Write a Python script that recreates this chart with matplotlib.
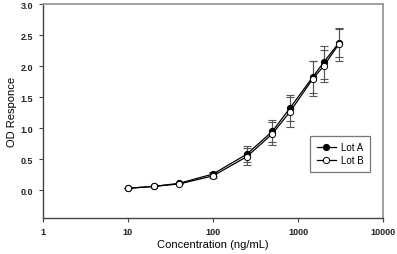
import numpy as np
import matplotlib
matplotlib.use("Agg")
import matplotlib.pyplot as plt

# concentrations (ng/mL)
conc = [10, 20, 40, 100, 250, 500, 800, 1500, 2000, 3000]
lot_a = [0.03, 0.06, 0.11, 0.26, 0.58, 0.95, 1.32, 1.83, 2.06, 2.37]
lot_a_err = [0.0, 0.0, 0.0, 0.04, 0.13, 0.18, 0.21, 0.26, 0.27, 0.23]
lot_b = [0.03, 0.06, 0.10, 0.23, 0.54, 0.91, 1.26, 1.80, 2.00, 2.35]
lot_b_err = [0.0, 0.0, 0.0, 0.04, 0.14, 0.19, 0.24, 0.29, 0.26, 0.26]

x_ticks = [1, 10, 100, 1000, 10000]
y_ticks = [0.0, 0.5, 1.0, 1.5, 2.0, 2.5, 3.0]

plt.rcParams["font.family"] = ["Liberation Sans", "DejaVu Sans"]

fig = plt.figure(figsize=(3.97, 2.55), dpi=100)
ax = fig.add_axes([0.108, 0.141, 0.857, 0.839])

err_kw = dict(fmt="none", ecolor="#555555", elinewidth=0.8, capsize=3, capthick=0.8)
ax.errorbar(conc, lot_a, yerr=lot_a_err, zorder=2, **err_kw)
ax.errorbar(conc, lot_b, yerr=lot_b_err, zorder=2, **err_kw)
ax.plot(conc, lot_a, color="black", lw=0.9, marker="o", ms=4.5,
        mfc="black", mec="black", mew=0.7, label="Lot A", zorder=3)
ax.plot(conc, lot_b, color="black", lw=0.9, marker="o", ms=4.5,
        mfc="white", mec="black", mew=0.7, label="Lot B", zorder=4)

ax.set_xscale("log")
ax.set_xlim(1, 10000)
ax.set_ylim(-0.45, 3.0)
ax.set_xticks(x_ticks)
ax.set_xticklabels([str(t) for t in x_ticks])
ax.xaxis.set_minor_locator(matplotlib.ticker.NullLocator())
ax.set_yticks(y_ticks)
ax.set_yticklabels([f"{t:.1f}" for t in y_ticks])
ax.tick_params(axis="both", labelsize=6.5, length=3, width=0.8,
               color="#444444")
ax.tick_params(axis="y", pad=4)
ax.tick_params(axis="x", pad=3.5)
for lbl in ax.get_xticklabels() + ax.get_yticklabels():
    lbl.set_fontweight("bold")
    lbl.set_color("#222222")

ax.set_xlabel("Concentration (ng/mL)", fontsize=8, va="center")
ax.set_ylabel("OD Responce", fontsize=8, va="center")
ax.xaxis.set_label_coords(0.5, -0.122)
ax.yaxis.set_label_coords(-0.092, 0.5)

for s in ["left", "bottom"]:
    ax.spines[s].set_color("#444444")
    ax.spines[s].set_linewidth(1.0)
for s in ["top", "right"]:
    ax.spines[s].set_color("#999999")
    ax.spines[s].set_linewidth(1.3)

leg = ax.legend(loc="upper left", bbox_to_anchor=(0.785, 0.385),
                fontsize=7, frameon=True, fancybox=False,
                handlelength=2.0, borderpad=0.7, labelspacing=0.25,
                handletextpad=0.5, borderaxespad=0)
leg.get_frame().set_edgecolor("#555555")
leg.get_frame().set_linewidth(0.9)

fig.savefig("out.png", dpi=100)
